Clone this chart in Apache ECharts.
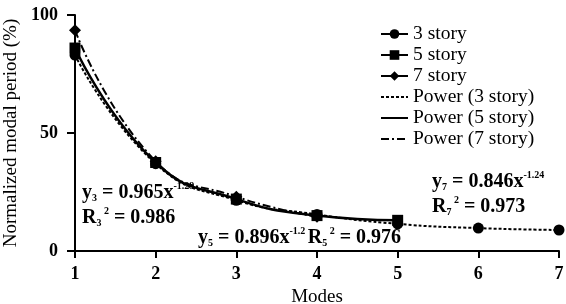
<!DOCTYPE html>
<html>
<head>
<meta charset="utf-8">
<script src="https://cdn.jsdelivr.net/npm/echarts@6/dist/echarts.min.js"></script>
<style>
  html, body { margin: 0; padding: 0; background: #fff; }
  #chart { width: 566px; height: 304px; }
</style>
</head>
<body>
<div id="chart"></div>
<script>
// modes on the x axis
const modes3 = [1, 2, 3, 4, 5, 6, 7]
const modes5 = [1, 2, 3, 4, 5]
const modes7 = [1, 2, 3, 4]
// normalized modal period (%)
const story3 = [83, 37, 21.5, 15.5, 11.5, 9.7, 8.9]
const story5 = [86, 37.5, 22, 15, 13]
const story7 = [93.5, 38, 23, 14.5]
const yTicks = [0, 50, 100]

const FONT = '"Liberation Serif", "DejaVu Serif", serif'

function pairs(xs, ys) {
  return xs.map((x, i) => [x, ys[i]])
}

const chart = echarts.init(document.getElementById('chart'))

function markerSeries(name, xs, ys, symbol, size) {
  return {
    name: name,
    type: 'line',
    data: pairs(xs, ys),
    symbol: symbol,
    symbolSize: size,
    itemStyle: { color: '#000' },
    lineStyle: { opacity: 0 },
    z: 5
  }
}

function powerSeries(name, xs, ys, type, width) {
  return {
    name: name,
    type: 'line',
    data: pairs(xs, ys),
    smooth: 0.5,
    symbol: 'none',
    itemStyle: { color: '#000' },
    lineStyle: { color: '#000', width: width, type: type },
    z: 3
  }
}

// fit labels (rich text with sub/superscripts)
const rich = {
  b: { fontFamily: FONT, fontSize: 20, fontWeight: 'bold', color: '#000', lineHeight: 26, verticalAlign: 'middle' },
  sub: { fontFamily: FONT, fontSize: 10, fontWeight: 'bold', color: '#000', lineHeight: 26, verticalAlign: 'bottom', padding: [0, 0, 3, 0] },
  sup: { fontFamily: FONT, fontSize: 10, fontWeight: 'bold', color: '#000', lineHeight: 26, verticalAlign: 'top', padding: [1, 0, 0, 0] }
}
function label(x, y, text) {
  return { type: 'text', left: x, top: y, style: { text: text, rich: rich } }
}

const lineIcon = { opacity: 1, width: 2, color: '#000' }

const option = {
  animation: false,
  backgroundColor: '#fff',
  grid: { left: 75, right: 7, top: 15, bottom: 53, containLabel: false, outerBoundsMode: 'none' },
  legend: {
    orient: 'vertical',
    left: 375,
    top: 19,
    itemWidth: 27,
    itemHeight: 12,
    itemGap: 1,
    textStyle: { fontFamily: FONT, fontSize: 19.5, color: '#000', lineHeight: 17 },
    data: [
      { name: '3 story', lineStyle: lineIcon },
      { name: '5 story', lineStyle: lineIcon },
      { name: '7 story', lineStyle: lineIcon },
      { name: 'Power (3 story)', itemStyle: { opacity: 0 } },
      { name: 'Power (5 story)', itemStyle: { opacity: 0 } },
      { name: 'Power (7 story)', itemStyle: { opacity: 0 } }
    ]
  },
  xAxis: {
    type: 'value',
    min: 1,
    max: 7,
    interval: 1,
    name: 'Modes',
    nameLocation: 'middle',
    nameGap: 35,
    nameTextStyle: { fontFamily: FONT, fontSize: 19, color: '#000' },
    axisLine: { lineStyle: { color: '#000', width: 2 } },
    axisTick: { length: 7, lineStyle: { color: '#000', width: 2 } },
    axisLabel: { fontFamily: FONT, fontSize: 18, fontWeight: 'bold', color: '#000', margin: 14 },
    splitLine: { show: false }
  },
  yAxis: {
    type: 'value',
    min: yTicks[0],
    max: yTicks[yTicks.length - 1],
    interval: 50,
    name: 'Normalized modal period (%)',
    nameLocation: 'middle',
    nameGap: 53,
    nameTextStyle: { fontFamily: FONT, fontSize: 19, color: '#000' },
    axisLine: { show: true, lineStyle: { color: '#000', width: 2 } },
    axisTick: { show: true, length: 8, lineStyle: { color: '#000', width: 2 } },
    axisLabel: { fontFamily: FONT, fontSize: 18, fontWeight: 'bold', color: '#000', margin: 17 },
    splitLine: { show: false }
  },
  series: [
    markerSeries('3 story', modes3, story3, 'circle', 11),
    markerSeries('5 story', modes5, story5, 'rect', 11),
    markerSeries('7 story', modes7, story7, 'diamond', 12),
    powerSeries('Power (3 story)', modes3, story3, [3, 2], 2),
    powerSeries('Power (5 story)', modes5, story5, 'solid', 2.5),
    powerSeries('Power (7 story)', modes7, story7, [8, 3, 2, 3], 2)
  ],
  graphic: [
    label(82, 180, '{b|y}{sub|3}{b| = 0.965x}{sup|-1.29}'),
    label(82, 205, '{b|R}{sub|3}{sup| 2}{b| = 0.986}'),
    label(198, 225, '{b|y}{sub|5}{b| = 0.896x}{sup|-1.2 }{b|R}{sub|5}{sup| 2}{b| = 0.976}'),
    label(432, 169, '{b|y}{sub|7}{b| = 0.846x}{sup|-1.24}'),
    label(432, 194, '{b|R}{sub|7}{sup| 2}{b| = 0.973}')
  ]
}

chart.setOption(option)
</script>
</body>
</html>
